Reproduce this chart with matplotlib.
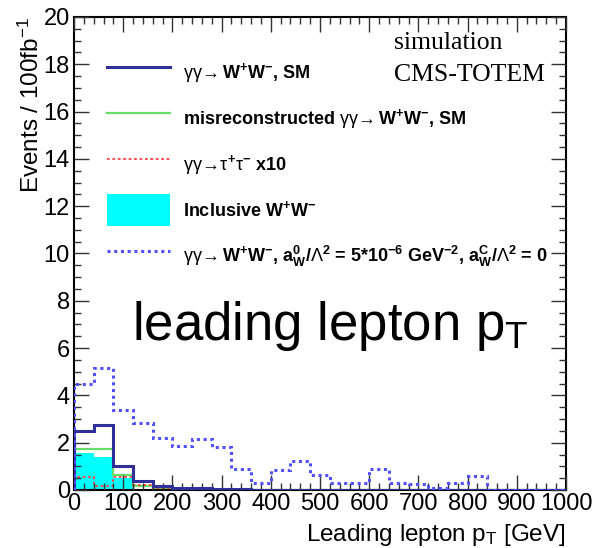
import numpy as np
import matplotlib
matplotlib.use('Agg')
import matplotlib.pyplot as plt
from matplotlib.ticker import MultipleLocator
from matplotlib.patches import Patch
from matplotlib.lines import Line2D

plt.rcParams['font.family'] = ['Liberation Sans', 'DejaVu Sans']
plt.rcParams['mathtext.fontset'] = 'custom'
plt.rcParams['mathtext.rm'] = 'Liberation Sans'
plt.rcParams['mathtext.it'] = 'Liberation Sans:italic'
plt.rcParams['mathtext.bf'] = 'Liberation Sans:bold'

# bordas dos bins: 25 bins de 40 GeV
bordas = np.arange(0, 1001, 40)

sm_ww = [2.5, 2.75, 1.0, 0.38, 0.15, 0.08, 0.08, 0.05, 0.03, 0.02,
         0, 0, 0, 0, 0, 0, 0, 0, 0, 0, 0, 0, 0, 0, 0]
misreco_ww = [1.72, 1.72, 0.63, 0.18, 0.05, 0.04, 0.03, 0.02, 0.02, 0,
              0, 0, 0, 0, 0, 0, 0, 0, 0, 0, 0, 0, 0, 0, 0]
tautau_x10 = [0.55, 0.15, 0.57, 0.2, 0.08, 0.05, 0.03, 0.02, 0, 0,
              0, 0, 0, 0, 0, 0, 0, 0, 0, 0, 0, 0, 0, 0, 0]
inclusivo_ww = [1.55, 1.4, 0.5, 0, 0, 0, 0, 0, 0, 0,
                0, 0, 0, 0, 0, 0, 0, 0, 0, 0, 0, 0, 0, 0, 0]
aqgc_ww = [4.5, 5.15, 3.4, 2.85, 2.2, 1.87, 2.15, 1.83, 0.87, 0.3,
           0.85, 1.23, 0.63, 0.3, 0.3, 0.88, 0.3, 0.25, 0.1, 0.3,
           0.6, 0, 0, 0, 0]

rotulos = [
    r'$\mathrm{\gamma\gamma}\!\rightarrow$W$^{\mathbf{+}}$W$^{\mathbf{-}}$, SM',
    r'misreconstructed $\mathrm{\gamma\gamma}\!\rightarrow$W$^{\mathbf{+}}$W$^{\mathbf{-}}$, SM',
    r'$\mathrm{\gamma\gamma}\!\rightarrow\!\mathrm{\tau}^{\mathbf{+}}\mathrm{\tau}^{\mathbf{-}}$ x10',
    r'Inclusive W$^{\mathbf{+}}$W$^{\mathbf{-}}$',
    r'$\mathrm{\gamma\gamma}\!\rightarrow$W$^{\mathbf{+}}$W$^{\mathbf{-}}$, a$_{\mathbf{W}}^{\mathbf{0}}$/$\Lambda^{\mathbf{2}}$ = 5*10$^{\mathbf{-6}}$ GeV$^{\mathbf{-2}}$, a$_{\mathbf{W}}^{\mathbf{C}}$/$\Lambda^{\mathbf{2}}$ = 0',
]

cor_sm = '#30309a'
cor_mis = '#66dd66'
cor_tau = '#ff4040'
cor_inc = '#00ffff'
cor_aqgc = '#5050ff'

fig = plt.figure(figsize=(5.96, 5.48), dpi=100)
ax = fig.add_axes([74 / 596, 1 - 490 / 548, (566 - 74) / 596, (490 - 17) / 548])

ax.stairs(inclusivo_ww, bordas, fill=True, color=cor_inc, zorder=1)
ax.stairs(misreco_ww, bordas, color=cor_mis, lw=1.6, zorder=2)
ax.stairs(tautau_x10, bordas, color=cor_tau, lw=1.3, ls=(0, (1.5, 1.5)), zorder=2)
ax.stairs(sm_ww, bordas, color=cor_sm, lw=2.2, zorder=3)
ax.stairs(aqgc_ww, bordas, color=cor_aqgc, lw=2.2, ls=(0, (1, 1.2)), zorder=3)

ax.set_xlim(0, 1000)
ax.set_ylim(0, 20)
ax.xaxis.set_major_locator(MultipleLocator(100))
ax.xaxis.set_minor_locator(MultipleLocator(20))
ax.yaxis.set_major_locator(MultipleLocator(2))
ax.yaxis.set_minor_locator(MultipleLocator(0.5))
ax.tick_params(which='both', direction='in', top=True, right=True,
               color='#333333', labelsize=17)
ax.tick_params(which='major', length=11, width=1.0)
ax.tick_params(which='minor', length=5, width=1.0)
ax.tick_params(axis='x', pad=2)
ax.tick_params(axis='y', pad=3)
for s in ax.spines.values():
    s.set_linewidth(1.5)
ax.set_axisbelow(False)

ax.set_xlabel(r'Leading lepton p$_{\mathrm{T}}$ [GeV]', fontsize=17.5, loc='right', labelpad=5)
ax.set_ylabel(r'Events / 100fb$^{-1}$', fontsize=17.5, loc='top', labelpad=0)

alcas = [
    Line2D([], [], color=cor_sm, lw=2.2),
    Line2D([], [], color=cor_mis, lw=1.6),
    Line2D([], [], color=cor_tau, lw=1.3, ls=(0, (1.5, 1.5))),
    Patch(facecolor=cor_inc, edgecolor='none'),
    Line2D([], [], color=cor_aqgc, lw=2.2, ls=(0, (1, 1.2))),
]
leg = ax.legend(alcas, rotulos, loc='upper left', bbox_to_anchor=(0.067, 0.9175),
                frameon=False, prop={'family': 'Liberation Sans', 'weight': 'bold', 'size': 13},
                handlelength=3.5, handleheight=2.35, labelspacing=0.78, handletextpad=0.72,
                borderaxespad=0, borderpad=0)

ax.text(0.76, 0.945, 'simulation', transform=ax.transAxes, ha='center', va='center',
        family='Liberation Serif', fontsize=18.5)
ax.text(0.803, 0.877, 'CMS-TOTEM', transform=ax.transAxes, ha='center', va='center',
        family='Liberation Serif', fontsize=18.5)

fig.text(132 / 596, 1 - 340 / 548, r'leading lepton p$_{\mathrm{T}}$', fontsize=38,
         va='baseline', ha='left')

fig.savefig('out.png', dpi=100)
